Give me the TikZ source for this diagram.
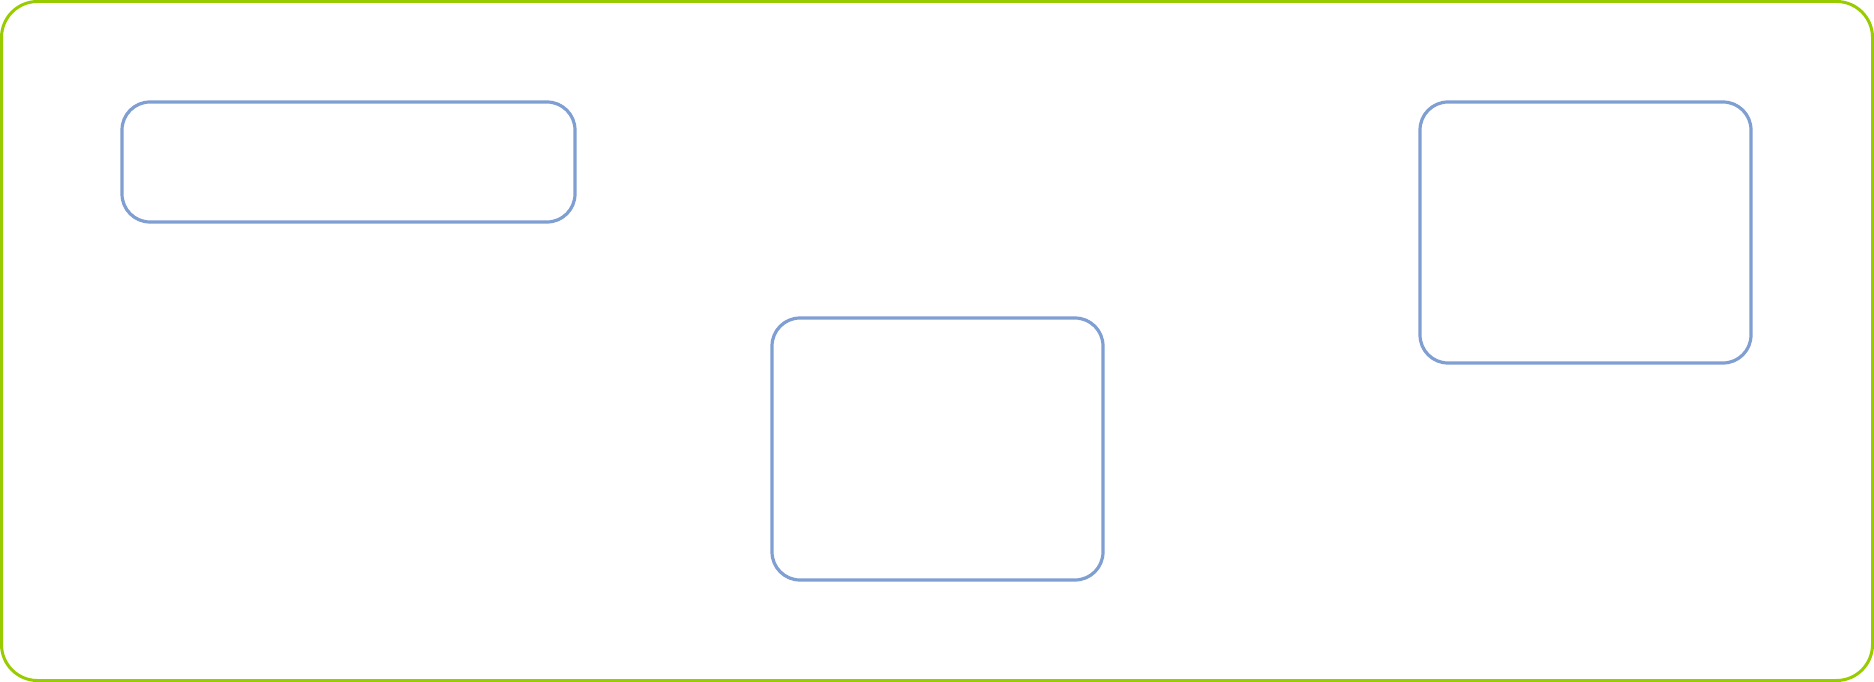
\documentclass[tikz,border=0pt]{standalone}
\usepackage{xcolor}
\usepackage{tikz}
\definecolor{framegreen}{HTML}{99CC00}
\definecolor{blockblue}{HTML}{7F9FD2}

\begin{document}
\begin{tikzpicture}[x=1pt,y=-1pt,frame/.style = {draw=framegreen, line width=3pt, rounded corners=36pt, inner sep=0pt, minimum width=1871pt, minimum height=679pt},block/.style = {draw=blockblue, line width=3.2pt, rounded corners=28pt, inner sep=0pt}]
		\useasboundingbox (0,0) rectangle (1874,682);
		\node[frame] (outer) at (937,341) {};
		\node[block, minimum width=453pt, minimum height=120pt] (top) at (348.5,162) {};
		\node[block, minimum width=331pt, minimum height=262pt] (mid) at (937.5,449) {};
		\node[block, minimum width=331pt, minimum height=261pt] (right) at (1585.5,232.5) {};
	\end{tikzpicture}
\end{document}
